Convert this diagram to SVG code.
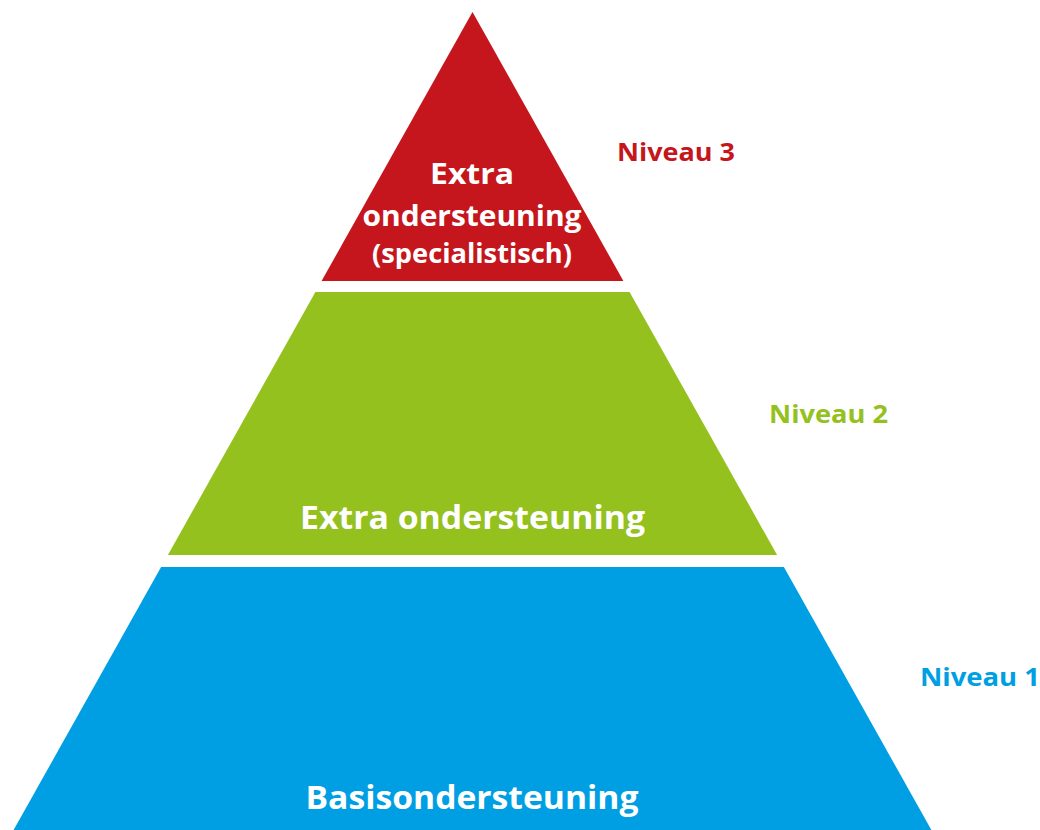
<svg xmlns="http://www.w3.org/2000/svg" width="1040" height="830" viewBox="0 0 1040 830">
<style>
.lbl{font-family:"Open Sans","DejaVu Sans",sans-serif;font-weight:700;fill:#fff;text-anchor:middle}
.niv{font-family:"Open Sans","DejaVu Sans",sans-serif;font-weight:700}
</style>
<rect width="1040" height="830" fill="#fff"/>
<g id="niveau3">
<polygon points="472.5,12 623.4,281 321.6,281" fill="#C4161C"/>
<text class="lbl" x="472" y="184" font-size="29" textLength="84" lengthAdjust="spacingAndGlyphs">Extra</text>
<text class="lbl" x="472" y="226" font-size="29" textLength="219" lengthAdjust="spacingAndGlyphs">ondersteuning</text>
<text class="lbl" x="472" y="263" font-size="26" textLength="200" lengthAdjust="spacingAndGlyphs">(specialistisch)</text>
<text class="niv" x="617" y="161" font-size="25" fill="#C4161C" textLength="118" lengthAdjust="spacingAndGlyphs">Niveau 3</text>
</g>
<g id="niveau2">
<polygon points="315.4,292 629.6,292 777.1,555 167.9,555" fill="#95C11F"/>
<text class="lbl" x="472.5" y="529" font-size="32" textLength="345" lengthAdjust="spacingAndGlyphs">Extra ondersteuning</text>
<text class="niv" x="769" y="423" font-size="25" fill="#95C11F" textLength="119" lengthAdjust="spacingAndGlyphs">Niveau 2</text>
</g>
<g id="niveau1">
<polygon points="161.1,567 783.9,567 931.4,830 13.6,830" fill="#009FE3"/>
<text class="lbl" x="472" y="809" font-size="33" textLength="333" lengthAdjust="spacingAndGlyphs">Basisondersteuning</text>
<text class="niv" x="920" y="686" font-size="25" fill="#009FE3" textLength="120" lengthAdjust="spacingAndGlyphs">Niveau 1</text>
</g>
<g id="connectors"></g>
</svg>
